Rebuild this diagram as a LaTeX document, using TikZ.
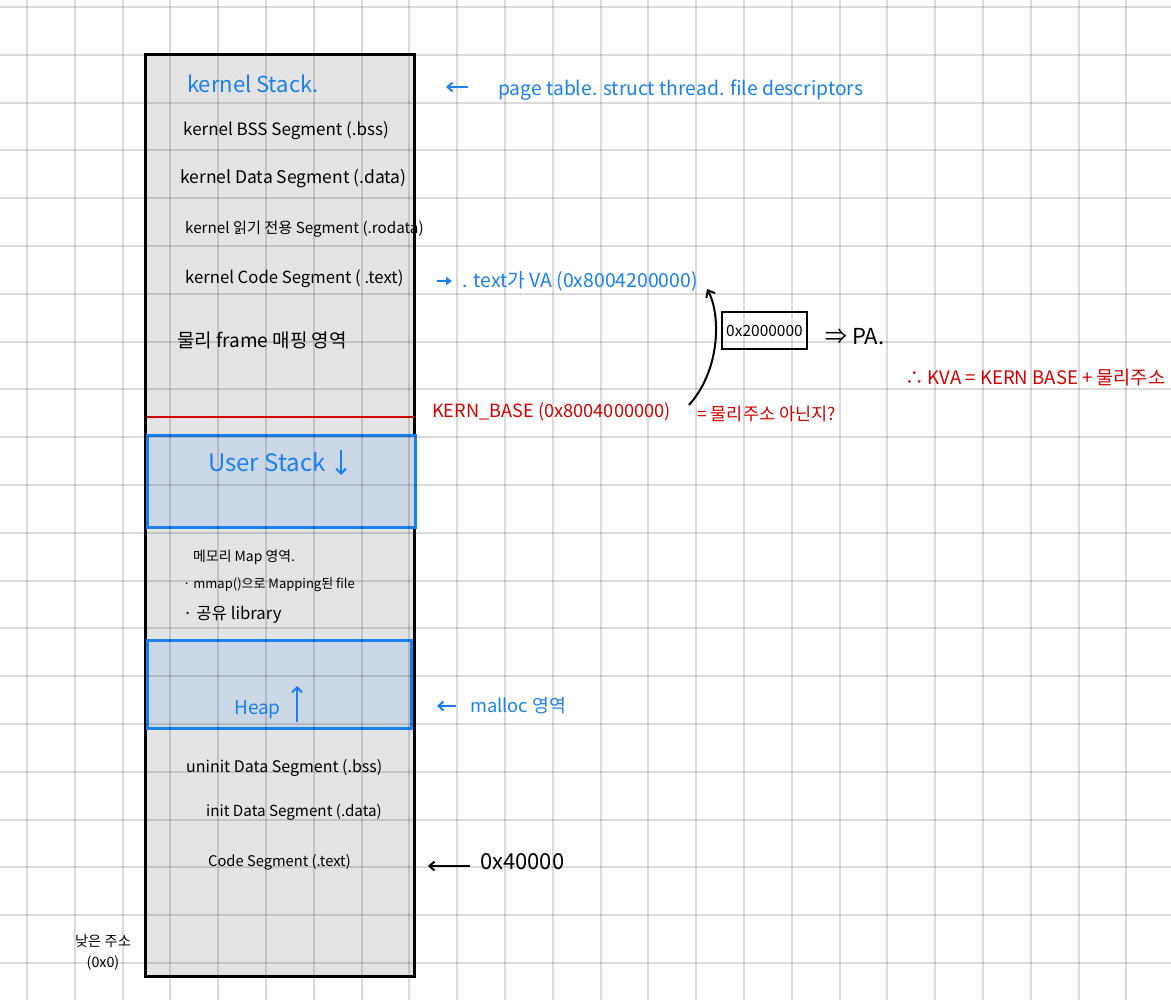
\documentclass[tikz,border=0pt]{standalone}
\usepackage{fontspec}
\setmainfont{Noto Sans CJK KR}
\usetikzlibrary{arrows.meta}
\definecolor{hblue}{HTML}{1A80F0}
\definecolor{hred}{HTML}{D40000}
\definecolor{boxgray}{HTML}{E4E4E4}
\definecolor{stackfill}{HTML}{CDD8E6}
\tikzset{
  gridline/.style={black, opacity=0.14, line width=2pt},
  membox/.style={draw=black, fill=boxgray, line width=3pt, inner sep=0pt},
  segbox/.style={draw=hblue, fill=stackfill, line width=3pt, inner sep=0pt},
  txt/.style={anchor=west, inner sep=0pt, font=\fontsize{#1}{#1}\selectfont},
  txt/.default=14,
  harrow/.style={line width=2pt, -{Straight Barb[length=5pt,width=9pt]}},
}
\begin{document}
\begin{tikzpicture}[x=1pt,y=-1pt]
\useasboundingbox (0,0) rectangle (1171,1000);
\fill[white] (0,0) rectangle (1171,1000);
% memory layout boxes
\node[membox, minimum width=269pt, minimum height=921pt] (mem) at (279.5,515.5) {};
\node[segbox, minimum width=268pt, minimum height=91pt] (ustack) at (281,481.5) {};
\node[segbox, minimum width=264pt, minimum height=88pt] (heapbox) at (279,684) {};
\draw[hred, line width=2pt] (147,417) -- (414,417);
% grid
\foreach \i in {0,...,23} \draw[gridline] ({27+47.8*\i},0) -- ({27+47.8*\i},1000);
\foreach \j in {0,...,20} \draw[gridline] (0,{7+47.8*\j}) -- (1171,{7+47.8*\j});
% kernel area
\node[txt=22, text=hblue] (kstack) at (187,84) {kernel Stack.};
\node[txt=17] (kbss) at (183,131) {kernel BSS Segment (.bss)};
\node[txt=17.5] (kdata) at (180,179) {kernel Data Segment (.data)};
\node[txt=15.2] (krodata) at (185,229) {kernel 읽기 전용 Segment (.rodata)};
\node[txt=16.7] (kcode) at (185,279) {kernel Code Segment ( .text)};
\node[txt=19] (phys) at (177,340) {물리 frame 매핑 영역};
% user area
\node[txt=24, text=hblue] (ustxt) at (208,462) {User Stack};
\coordinate (usa1) at (341,450);
\coordinate (usa2) at (341,475);
\draw[hblue, line width=2pt, -{Straight Barb[length=5pt,width=10pt]}] (usa1) -- (usa2);
\node[txt=13.9] (mmap1) at (193,557) {메모리 Map 영역.};
\node[txt=13] (mmap2) at (183,585) {· mmap()으로 Mapping된 file};
\node[txt=16.7] (mmap3) at (183,615) {· 공유 library};
\node[txt=19, text=hblue] (heaptxt) at (234,710) {Heap};
\coordinate (ha1) at (297,722);
\coordinate (ha2) at (297,686);
\draw[hblue, line width=2pt, -{Straight Barb[length=5pt,width=10pt]}] (ha1) -- (ha2);
\node[txt=16] (ubss) at (186,768) {uninit Data Segment (.bss)};
\node[txt=15.2] (udata) at (206,812) {init Data Segment (.data)};
\node[txt=14.7] (ucode) at (208,862) {Code Segment (.text)};
\node[inner sep=0pt, align=center, font=\fontsize{14.3}{21}\selectfont] (low) at (103,952) {낮은 주소\\(0x0)};
% annotations right
\node[txt=19.3, text=hblue] (pt) at (498,90) {page table. struct thread. file descriptors};
\coordinate (pta1) at (468,87);
\coordinate (pta2) at (446,87);
\draw[harrow, hblue] (pta1) -- (pta2);
\node[txt=19.4, text=hblue] (va) at (462,281) {. text가 VA (0x8004200000)};
\coordinate (vaa1) at (437,281);
\coordinate (vaa2) at (452,281);
\draw[hblue, line width=2.5pt, -{Triangle[length=6pt,width=8pt]}] (vaa1) -- (vaa2);
\node[draw, line width=2.5pt, minimum width=85pt, minimum height=37pt, inner sep=0pt, font=\fontsize{15.5}{15.5}\selectfont] (pa) at (764.5,330.5) {0x2000000};
\node[txt=22] (patxt) at (825,337) {⇒ PA.};
\node[txt=18.6, text=hred] (kva) at (905,378) {∴ KVA = KERN BASE + 물리주소};
\node[txt=18.2, text=hred] (kb) at (432,412) {KERN\_BASE (0x8004000000)};
\node[txt=17.5, text=hred] (q) at (697,414) {= 물리주소 아닌지?};
\coordinate (c1) at (689,405);
\coordinate (c2) at (707,289);
\draw[line width=2pt, -{Straight Barb[length=6pt,width=10pt]}] (c1) .. controls (722,368) and (720,312) .. (c2);
\node[txt=18.3, text=hblue] (malloc) at (470,706) {malloc 영역};
\coordinate (ma1) at (456,706);
\coordinate (ma2) at (437,706);
\draw[harrow, hblue] (ma1) -- (ma2);
\node[txt=22] (addr) at (480,862) {0x40000};
\coordinate (ad1) at (470,866);
\coordinate (ad2) at (428,866);
\draw[harrow, black] (ad1) -- (ad2);
\end{tikzpicture}
\end{document}
